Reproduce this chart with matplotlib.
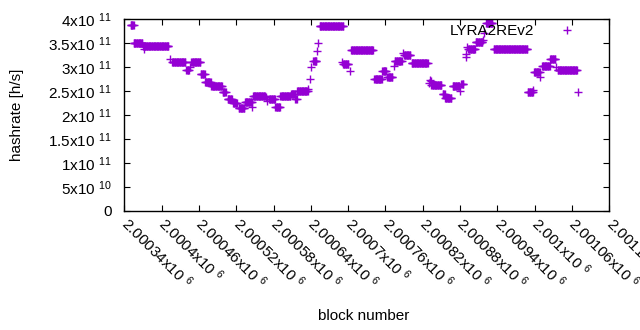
import numpy as np
import matplotlib
matplotlib.use('Agg')
import matplotlib.pyplot as plt

plt.rcParams['font.family'] = ['Liberation Sans', 'DejaVu Sans']
plt.rcParams['mathtext.fontset'] = 'custom'
plt.rcParams['mathtext.rm'] = 'Liberation Sans'
plt.rcParams['mathtext.default'] = 'regular'

# runs of blocks that share one hashrate value (first block, last block, hashrate in 1e11 h/s)
seg_start = [2000350, 2000355, 2000370, 2000371, 2000413, 2000417, 2000440, 2000446,
             2000448, 2000463, 2000470, 2000480, 2000498, 2000506, 2000515, 2000524,
             2000534, 2000545, 2000547, 2000568, 2000570, 2000573, 2000583, 2000591,
             2000608, 2000615, 2000618, 2000636, 2000638, 2000641, 2000644, 2000650,
             2000652, 2000654, 2000690, 2000692, 2000703, 2000705, 2000742, 2000755,
             2000763, 2000773, 2000775, 2000789, 2000790, 2000802, 2000830, 2000831,
             2000833, 2000834, 2000852, 2000856, 2000868, 2000880, 2000882, 2000889,
             2000890, 2000891, 2000893, 2000905, 2000917, 2000919, 2000922, 2000934,
             2000989, 2000998, 2000999, 2001009, 2001012, 2001025, 2001034, 2001037,
             2001069]
seg_end = [2000355, 2000369, 2000411, 2000371, 2000413, 2000438, 2000444, 2000446,
           2000462, 2000469, 2000479, 2000497, 2000503, 2000513, 2000521, 2000533,
           2000545, 2000545, 2000566, 2000568, 2000570, 2000582, 2000590, 2000607,
           2000614, 2000617, 2000635, 2000636, 2000638, 2000641, 2000649, 2000650,
           2000652, 2000692, 2000690, 2000700, 2000703, 2000740, 2000754, 2000761,
           2000771, 2000773, 2000786, 2000789, 2000800, 2000828, 2000830, 2000831,
           2000833, 2000850, 2000855, 2000866, 2000879, 2000880, 2000885, 2000889,
           2000890, 2000891, 2000904, 2000916, 2000917, 2000919, 2000932, 2000988,
           2000997, 2000998, 2001008, 2001009, 2001024, 2001033, 2001034, 2001068,
           2001069]
seg_rate = [3.88, 3.51, 3.43, 3.38, 3.16, 3.11, 2.93, 3.00,
            3.10, 2.85, 2.68, 2.61, 2.47, 2.33, 2.26, 2.14,
            2.28, 2.17, 2.40, 2.38, 2.30, 2.33, 2.17, 2.40,
            2.43, 2.34, 2.49, 2.55, 2.74, 2.99, 3.12, 3.33,
            3.51, 3.85, 3.10, 3.06, 2.92, 3.35, 2.74, 2.91,
            2.79, 3.03, 3.12, 3.29, 3.25, 3.08, 2.66, 2.72,
            2.70, 2.62, 2.43, 2.35, 2.60, 2.51, 2.64, 3.21,
            3.28, 3.42, 3.38, 3.53, 3.56, 3.70, 3.91, 3.38,
            2.48, 2.53, 2.90, 2.80, 3.03, 3.16, 3.00, 2.93,
            2.47]

xtick_vals = [2000340, 2000400, 2000460, 2000520, 2000580, 2000640, 2000700,
              2000760, 2000820, 2000880, 2000940, 2001000, 2001060, 2001120]
xtick_labels = ['2.00034', '2.0004', '2.00046', '2.00052', '2.00058', '2.00064', '2.0007',
                '2.00076', '2.00082', '2.00088', '2.00094', '2.001', '2.00106', '2.00112']
ytick_vals = [0, 0.5e11, 1e11, 1.5e11, 2e11, 2.5e11, 3e11, 3.5e11, 4e11]
ytick_labels = ['0', '5x10 $^{10}$', '1x10 $^{11}$', '1.5x10 $^{11}$', '2x10 $^{11}$',
                '2.5x10 $^{11}$', '3x10 $^{11}$', '3.5x10 $^{11}$', '4x10 $^{11}$']

blocks = []
rates = []
for s, e, r in zip(seg_start, seg_end, seg_rate):
    for b in range(s, e + 1):
        blocks.append(b)
        rates.append(r * 1e11)

fig = plt.figure(figsize=(6.4, 3.3), dpi=100)
ax = fig.add_axes([124.3 / 640, 1 - 211 / 330, 485 / 640, 192 / 330])

ax.plot(blocks, rates, '+', color='#9400d3', ms=5.5, mew=1.0, label='LYRA2REv2')

ax.set_xlim(2000340, 2001120)
ax.set_ylim(0, 4e11)
ax.set_xticks(xtick_vals)
ax.set_xticklabels([l + 'x10 $^6$' for l in xtick_labels], rotation=-45,
                   ha='left', va='center', rotation_mode='anchor')
ax.set_yticks(ytick_vals)
ax.set_yticklabels(ytick_labels)
ax.tick_params(direction='in', length=4, width=0.8, top=True, right=True,
               labelsize=11, colors='black')
ax.tick_params(axis='x', pad=7)
ax.tick_params(axis='y', pad=9)
for sp in ax.spines.values():
    sp.set_linewidth(1.0)

fig.text(17 / 640, 1 - 115 / 330, 'hashrate [h/s]', rotation=90, ha='center', va='center', fontsize=11)
fig.text(364 / 640, 1 - 316 / 330, 'block number', ha='center', va='center', fontsize=11)

ax.legend(loc='upper right', bbox_to_anchor=(0.944, 0.974), frameon=False, markerfirst=False,
          numpoints=1, handlelength=2, handletextpad=1.16, borderpad=0, borderaxespad=0,
          fontsize=11)

fig.savefig('out.png', dpi=100)
